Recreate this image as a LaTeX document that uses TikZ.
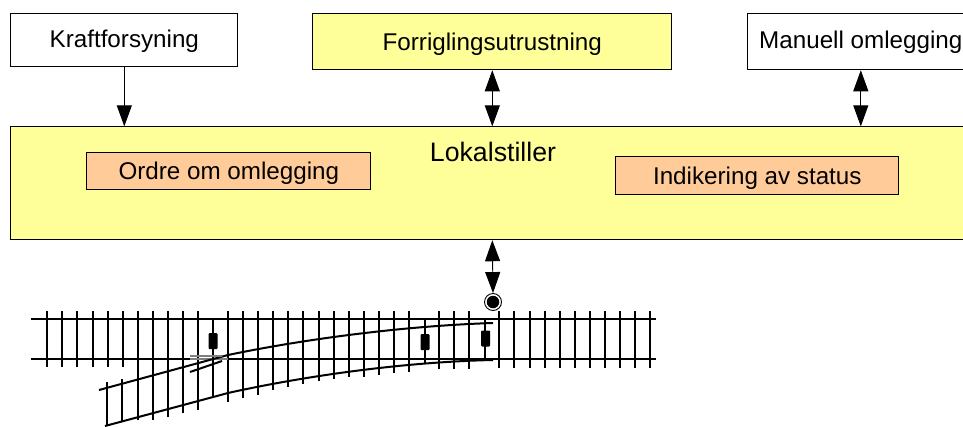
\documentclass[tikz,border=0pt]{standalone}
\usepackage{fontspec}
\setmainfont{Liberation Sans}
\usetikzlibrary{arrows.meta}
\definecolor{lightyellow}{HTML}{FFFF99}
\definecolor{lightorange}{HTML}{FFCC99}
\tikzset{
	box/.style={draw,line width=0.9pt,minimum height=#1,inner sep=0pt,text height=17pt,text depth=0pt,font=\fontsize{24.2}{26}\selectfont},
	box/.default=56pt,
	single/.style={line width=0.9pt,-{Triangle[width=15pt,length=21pt]}},
	double/.style={line width=0.9pt,{Triangle[width=15pt,length=21pt]}-{Triangle[width=15pt,length=21pt]}},
	rail/.style={line width=2pt},
	tie/.style={line width=2pt}
}
\begin{document}
\begin{tikzpicture}[x=1pt,y=-1pt]
	\useasboundingbox (0,0) rectangle (963,426);
	\clip (0,0) rectangle (963,426);
	% boxes
	\node[box=53pt,minimum width=227pt,fill=white,text depth=3pt] (Kraft) at (124.3,40.3) {Kraftforsyning};
	\node[box,minimum width=359pt,fill=lightyellow] (Forrigling) at (492.3,41.8) {Forriglingsutrustning};
	\node[box,minimum width=226pt,fill=white,text depth=3pt] (Manuell) at (860.8,41.8) {Manuell omlegging};
	\node[box=113pt,minimum width=970pt,fill=lightyellow] (Lokal) at (495.8,183.3) {};
	\node[font=\fontsize{26.7}{28}\selectfont] (LokalText) at (493,152) {Lokalstiller};
	\node[box=37pt,minimum width=284pt,fill=lightorange] (Ordre) at (228.8,171.3) {Ordre om omlegging};
	\node[box=38pt,minimum width=283pt,fill=lightorange] (Status) at (757.3,175.8) {Indikering av status};
	% point machine
	\node[circle,draw,fill=white,line width=0.9pt,minimum size=17pt,inner sep=0pt] (Motor) at (493,302) {};
	\node[circle,fill=black,minimum size=12.5pt,inner sep=0pt] (MotorCore) at (Motor.center) {};
	% connectors
	\draw[single] (Kraft.south) -- (Kraft.south |- Lokal.north);
	\draw[double] (Forrigling.south) -- (Forrigling.south |- Lokal.north);
	\draw[double] (Manuell.south) -- (Manuell.south |- Lokal.north);
	\draw[double] (Forrigling.south |- Lokal.south) -- (Motor.north);
	% ties, straight track
	\foreach \k in {0,...,5}
		\draw[tie] ({47.3+15.07*\k},311) -- ({47.3+15.07*\k},367);
	\foreach \k/\ylow in {6/420,7/420,8/417,9/413,10/410,12/402,13/398,14/395,15/390,16/387,17/384,18/381,19/379,20/377,21/377,22/375,23/373,24/372,26/369,27/369,28/369}
		\draw[tie] ({47.3+15.07*\k},311) -- ({47.3+15.07*\k},\ylow);
	\foreach \k in {30,...,40}
		\draw[tie] ({47.3+15.07*\k},311) -- ({47.3+15.07*\k},367.5);
	% short ties with rods
	\draw[tie] (213,320) -- (213,397);
	\draw[tie] (425,318) -- (425,363);
	\draw[tie] (485,318) -- (485,360);
	\draw[tie] (107,382) -- (107,425);
	\draw[tie] (122,379) -- (122,421);
	% rails
	\draw[rail] (31,318.5) -- (656,318.5);
	\draw[rail] (31,359) -- (190,359);
	\draw[rail,gray] (190,359) -- (228,359);
	\draw[rail] (228,359) -- (656,359);
	\draw[rail] (99,390) -- (228,355) .. controls (300,340) and (400,326) .. (493,323);
	\draw[rail] (105,426) -- (228,393) .. controls (300,377) and (400,362) .. (493,360);
	\draw[rail,gray] (190,356) -- (222,356);
	\draw[rail] (190,372) -- (222,361);
	% clamps
	\foreach \cx/\cy in {213/341,425/342,485.5/338.5}
		\fill[rounded corners=1pt] ({\cx-4.5},{\cy-8}) rectangle ({\cx+4.5},{\cy+8});
\end{tikzpicture}
\end{document}
